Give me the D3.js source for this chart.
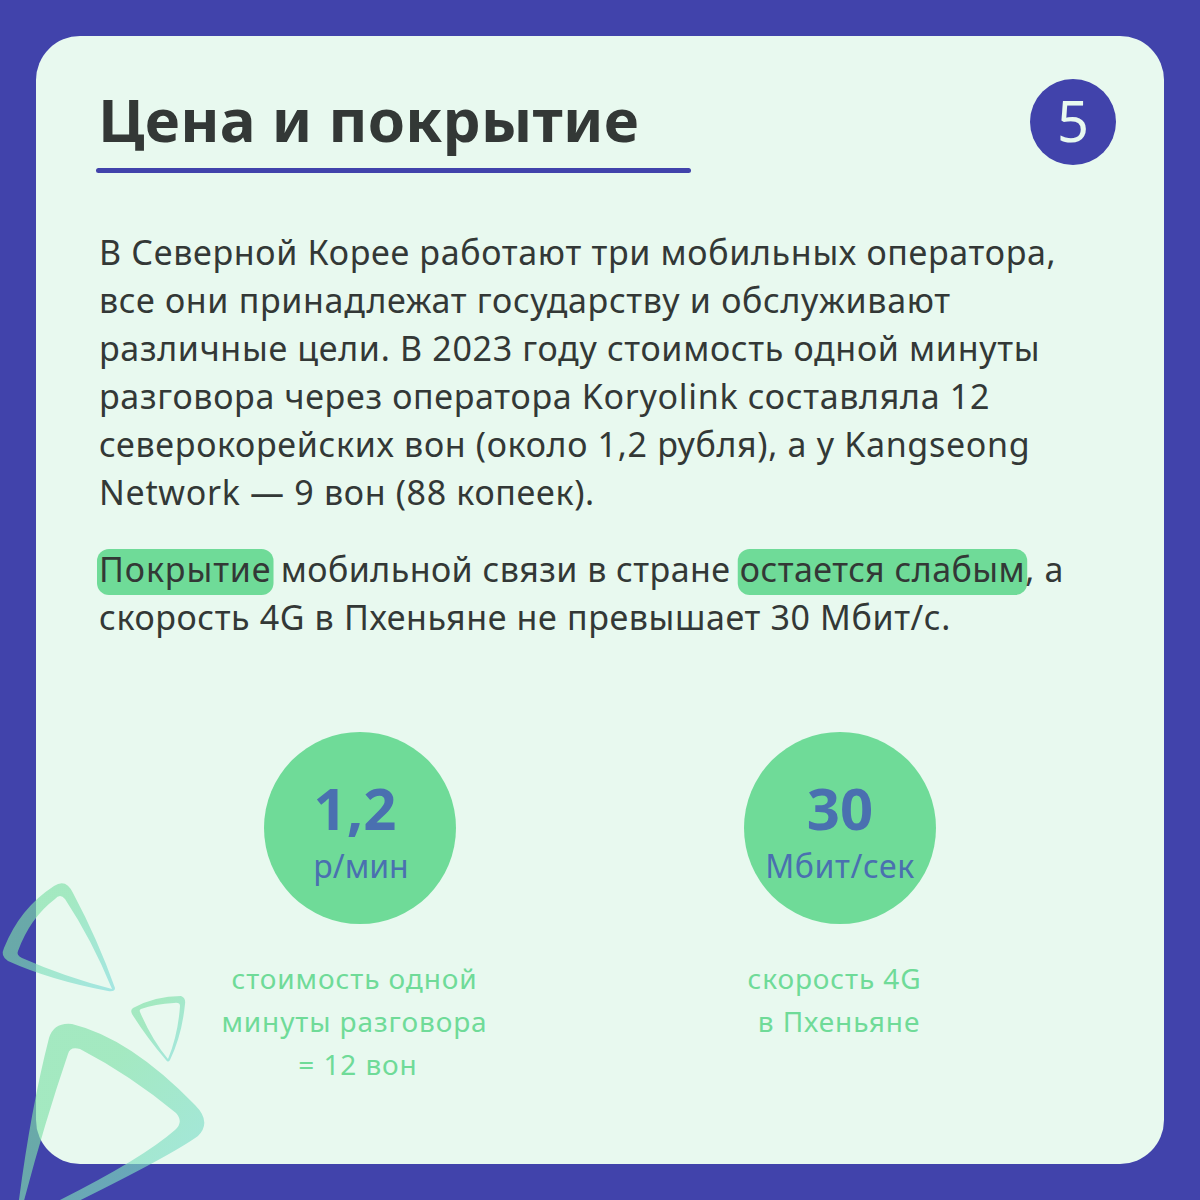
<!DOCTYPE html>
<html>
<head>
<meta charset="utf-8">
<script src="https://cdn.jsdelivr.net/npm/d3@7"></script>
<style>
html, body { margin: 0; padding: 0; background: #4143ab; }
svg { display: block; }
text { font-family: "Noto Sans", sans-serif; }
</style>
</head>
<body>
<div id="chart"></div>
<script>
var pageTitle = "Цена и покрытие";
var pageNumber = "5";
var introLines = [
    "В Северной Корее работают три мобильных оператора,",
    "все они принадлежат государству и обслуживают",
    "различные цели. В 2023 году стоимость одной минуты",
    "разговора через оператора Koryolink составляла 12",
    "северокорейских вон (около 1,2 рубля), а у Kangseong",
    "Network — 9 вон (88 копеек)."
];
var coverageLines = [
    [["Покрытие", true], [" мобильной связи в стране ", false], ["остается слабым", true], [", а", false]],
    [["скорость 4G в Пхеньяне не превышает 30 Мбит/с.", false]]
];
var statKeys = ["price", "speed"];
var statValues = ["1,2", "30"];
var statUnits = ["р/мин", "Мбит/сек"];
var statCaptions = [
    ["стоимость одной", "минуты разговора", "= 12 вон"],
    ["скорость 4G", " в Пхеньяне"]
];

var width = 1200, height = 1200;
var blue = "#4143ab", card = "#e8f9ef", green = "#6fdb98", dark = "#333836", statBlue = "#4a70b0";
var bodySize = 34, bodySpacing = 0.68;

// small nudges so the text lines sit where they do on the card
var coverSpacing = [[0.9, 0.44, 0.48, 0.68], [0.62]];
var valueShift = [-5, 0];
var unitShift = [1, 0];
var unitSpacing = [0, 0.6];
var captionShift = [[-5.5, -5.5, -2], [-5.5, -1]];

var svg = d3.select("#chart").append("svg")
    .attr("width", width)
    .attr("height", height);

svg.append("rect").attr("width", width).attr("height", height).attr("fill", blue);
svg.append("rect")
    .attr("x", 36).attr("y", 36)
    .attr("width", 1128).attr("height", 1128)
    .attr("rx", 44)
    .attr("fill", card);

// decoration, three rounded triangles
var defs = svg.append("defs");
var grad = defs.append("linearGradient")
    .attr("id", "tri")
    .attr("x1", "0").attr("y1", "0").attr("x2", "1").attr("y2", "1");
grad.append("stop").attr("offset", "0.35").attr("stop-color", "#7fe0a8");
grad.append("stop").attr("offset", "1").attr("stop-color", "#7fdcdc");

function triangleOne() {
    var p = d3.path();
    p.moveTo(54, 886);
    p.quadraticCurveTo(66, 878, 73, 893);
    p.quadraticCurveTo(98, 940, 115, 988);
    p.quadraticCurveTo(115, 992, 108, 991);
    p.quadraticCurveTo(50, 980, 8, 961);
    p.quadraticCurveTo(0, 956, 4, 948);
    p.quadraticCurveTo(20, 908, 54, 886);
    p.closePath();
    p.moveTo(55, 899);
    p.quadraticCurveTo(30, 918, 18, 951);
    p.quadraticCurveTo(16, 955, 22, 958);
    p.quadraticCurveTo(65, 977, 112, 989);
    p.quadraticCurveTo(92, 940, 65, 899);
    p.quadraticCurveTo(60, 893, 55, 899);
    p.closePath();
    return p.toString();
}

function triangleTwo() {
    var p = d3.path();
    p.moveTo(133, 1008);
    p.quadraticCurveTo(155, 996, 181, 996);
    p.quadraticCurveTo(186, 998, 185, 1004);
    p.quadraticCurveTo(182, 1035, 170, 1060);
    p.quadraticCurveTo(168, 1063, 166, 1060);
    p.quadraticCurveTo(147, 1038, 132, 1014);
    p.quadraticCurveTo(130, 1010, 133, 1008);
    p.closePath();
    p.moveTo(140, 1012);
    p.quadraticCurveTo(152, 1040, 168, 1059);
    p.quadraticCurveTo(178, 1035, 180, 1006);
    p.quadraticCurveTo(180, 1002, 174, 1003);
    p.quadraticCurveTo(155, 1004, 141, 1009);
    p.quadraticCurveTo(139, 1010, 140, 1012);
    p.closePath();
    return p.toString();
}

function triangleThree() {
    var p = d3.path();
    p.moveTo(49, 1038);
    p.quadraticCurveTo(54, 1022, 72, 1024);
    p.quadraticCurveTo(130, 1038, 195, 1105);
    p.quadraticCurveTo(212, 1122, 198, 1136);
    p.quadraticCurveTo(165, 1160, 15, 1232);
    p.quadraticCurveTo(28, 1120, 49, 1038);
    p.closePath();
    p.moveTo(68, 1054);
    p.quadraticCurveTo(42, 1130, 19, 1220);
    p.quadraticCurveTo(135, 1165, 175, 1130);
    p.quadraticCurveTo(184, 1122, 176, 1113);
    p.quadraticCurveTo(130, 1075, 80, 1049);
    p.quadraticCurveTo(70, 1046, 68, 1054);
    p.closePath();
    return p.toString();
}

svg.selectAll("path.tri")
    .data([triangleOne(), triangleTwo(), triangleThree()])
    .enter().append("path")
    .attr("class", "tri")
    .attr("d", function (d) { return d; })
    .attr("fill", "url(#tri)")
    .attr("fill-rule", "evenodd")
    .attr("opacity", 0.65);

// heading
svg.append("text")
    .attr("x", 98).attr("y", 142)
    .attr("font-size", 60)
    .attr("font-weight", 700)
    .attr("letter-spacing", 0.3)
    .attr("fill", dark)
    .text(pageTitle);
svg.append("rect")
    .attr("x", 96).attr("y", 168)
    .attr("width", 595).attr("height", 5)
    .attr("rx", 2.5)
    .attr("fill", blue);

svg.append("circle").attr("cx", 1073).attr("cy", 122).attr("r", 43).attr("fill", blue);
svg.append("text")
    .attr("x", 1073).attr("y", 142)
    .attr("text-anchor", "middle")
    .attr("font-size", 56)
    .attr("fill", card)
    .text(pageNumber);

// body text
var introY = d3.scaleLinear().domain([0, 1]).range([264.5, 312.5]);
svg.selectAll("text.intro")
    .data(introLines)
    .enter().append("text")
    .attr("class", "intro")
    .attr("x", 99)
    .attr("y", function (d, i) { return introY(i); })
    .attr("font-size", bodySize)
    .attr("letter-spacing", bodySpacing)
    .attr("fill", dark)
    .text(function (d) { return d; });

var coverY = d3.scaleLinear().domain([0, 1]).range([581.5, 629.5]);
coverageLines.forEach(function (parts, i) {
    var x = 99;
    parts.forEach(function (part, k) {
        var t = svg.append("text")
            .attr("x", x)
            .attr("y", coverY(i))
            .attr("font-size", bodySize)
            .attr("letter-spacing", coverSpacing[i][k])
            .attr("fill", dark)
            .attr("xml:space", "preserve")
            .style("white-space", "pre")
            .text(part[0]);
        var w = t.node().getComputedTextLength();
        if (part[1]) {
            svg.insert("rect", function () { return t.node(); })
                .attr("x", x - 2)
                .attr("y", coverY(i) - 32.5)
                .attr("width", w + 4)
                .attr("height", 46)
                .attr("rx", 12)
                .attr("fill", green);
        }
        x += w;
    });
});

// two stat circles
var statX = d3.scaleBand().domain(statKeys).range([120, 1080]).paddingInner(0);
var radius = d3.scaleSqrt().domain([0, 1]).range([0, 96]);

var stat = svg.selectAll("g.stat")
    .data(statKeys)
    .enter().append("g")
    .attr("class", "stat")
    .attr("transform", function (d) { return "translate(" + (statX(d) + statX.bandwidth() / 2) + ",0)"; });

stat.append("circle")
    .attr("cy", 828)
    .attr("r", radius(1))
    .attr("fill", green);

stat.append("text")
    .attr("x", function (d, i) { return valueShift[i]; })
    .attr("y", 830)
    .attr("text-anchor", "middle")
    .attr("font-size", 58)
    .attr("font-weight", 700)
    .attr("fill", statBlue)
    .text(function (d, i) { return statValues[i]; });

stat.append("text")
    .attr("x", function (d, i) { return unitShift[i]; })
    .attr("y", 878)
    .attr("text-anchor", "middle")
    .attr("font-size", 32)
    .attr("letter-spacing", function (d, i) { return unitSpacing[i]; })
    .attr("fill", statBlue)
    .text(function (d, i) { return statUnits[i]; });

var captionY = d3.scaleLinear().domain([0, 1]).range([989, 1032]);
stat.each(function (d, i) {
    d3.select(this).selectAll("text.caption")
        .data(statCaptions[i])
        .enter().append("text")
        .attr("class", "caption")
        .attr("x", function (c, j) { return captionShift[i][j]; })
        .attr("y", function (c, j) { return captionY(j); })
        .attr("text-anchor", "middle")
        .attr("font-size", 28)
        .attr("letter-spacing", 0.9)
        .attr("fill", green)
        .text(function (c) { return c; });
});
</script>
</body>
</html>
